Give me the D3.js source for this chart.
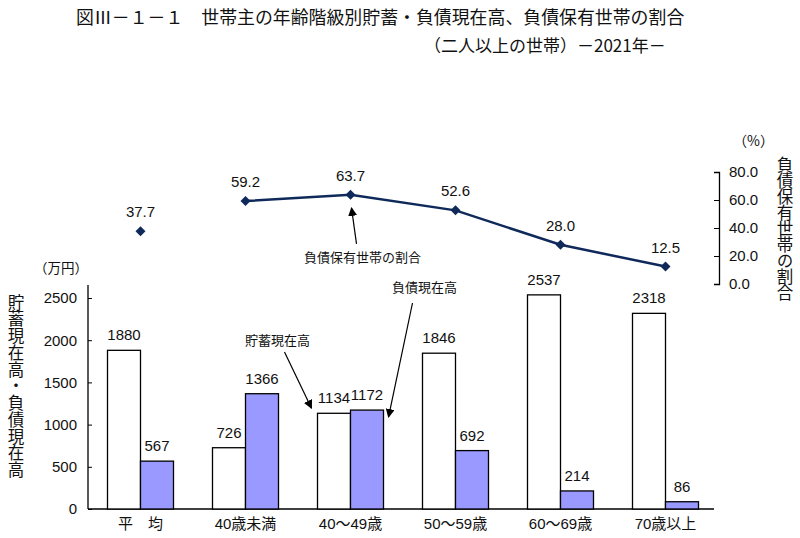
<!DOCTYPE html>
<html>
<head>
<meta charset="utf-8">
<script src="https://cdn.jsdelivr.net/npm/d3@7"></script>
<style>
  body { margin: 0; background: #fff; }
  text { font-family: "Liberation Sans", "Noto Sans CJK JP", sans-serif; fill: #111; }
  .jp { font-family: "Noto Sans CJK JP", sans-serif; }
  .vert { writing-mode: vertical-rl; }
</style>
</head>
<body>
<script>
var categories = ["平　均", "40歳未満", "40～49歳", "50～59歳", "60～69歳", "70歳以上"];
var savings = [1880, 726, 1134, 1846, 2537, 2318];
var debts = [567, 1366, 1172, 692, 214, 86];
var debtShare = [37.7, 59.2, 63.7, 52.6, 28.0, 12.5];
var leftTicks = [0, 500, 1000, 1500, 2000, 2500];
var rightTicks = [0, 20, 40, 60, 80];

var svgWidth = 800, svgHeight = 538;

var svg = d3.select("body")
  .append("svg")
  .attr("width", svgWidth)
  .attr("height", svgHeight);

// arrow head
svg.append("defs").append("marker")
  .attr("id", "arrow")
  .attr("viewBox", "0 0 10 10")
  .attr("refX", 9).attr("refY", 5)
  .attr("markerWidth", 9).attr("markerHeight", 9)
  .attr("markerUnits", "userSpaceOnUse")
  .attr("orient", "auto")
  .append("path")
  .attr("d", "M0,0L10,5L0,10z")
  .attr("fill", "#000");

// scales
var x = d3.scaleBand().domain(categories).range([88, 718]);
var sub = d3.scaleBand().domain(["sav", "debt"]).range([-33, 33]);
var y = d3.scaleLinear().domain([0, 2500]).range([509, 298]);
var yr = d3.scaleLinear().domain([0, 80]).range([284, 172]);
var cx = c => x(c) + x.bandwidth() / 2;

// title
svg.append("text").attr("class", "jp")
  .attr("x", 76).attr("y", 24)
  .style("font-size", "17.9px")
  .text("図Ⅲ－１－１　世帯主の年齢階級別貯蓄・負債現在高、負債保有世帯の割合");
svg.append("text").attr("class", "jp")
  .attr("x", 424).attr("y", 52)
  .style("font-size", "17px")
  .text("（二人以上の世帯）－2021年－");

// left axis
var leftAxis = d3.axisLeft(y).tickValues(leftTicks).tickSizeInner(-4).tickSizeOuter(0).tickPadding(11).tickFormat(d3.format("d"));
var gl = svg.append("g").attr("transform", "translate(88,0)").call(leftAxis);
gl.select(".domain").remove();
gl.append("line").attr("x1", 0).attr("x2", 0).attr("y1", 285).attr("y2", 509).attr("stroke", "#000").attr("stroke-width", 1.3);
gl.selectAll(".tick text").style("font-size", "15px").attr("fill", "#111");
gl.selectAll(".tick line").attr("stroke", "#000");

// x axis
var xAxis = d3.axisBottom(x).tickSize(0).tickPadding(9);
var gx = svg.append("g").attr("transform", "translate(0,509)").call(xAxis);
gx.select(".domain").remove();
gx.append("line").attr("x1", 88).attr("x2", 714).attr("y1", 0).attr("y2", 0).attr("stroke", "#000").attr("stroke-width", 1.3);
gx.selectAll(".tick text").style("font-size", "15px").attr("fill", "#111");

// right axis
var rightAxis = d3.axisRight(yr).tickValues(rightTicks).tickSizeInner(-5).tickSizeOuter(-5).tickPadding(10).tickFormat(d3.format(".1f"));
var gr = svg.append("g").attr("transform", "translate(719,0)").call(rightAxis);
gr.select(".domain").attr("stroke-width", 1.3);
gr.selectAll(".tick text").style("font-size", "15px").attr("fill", "#111");

// unit labels
svg.append("text").attr("class", "jp").attr("x", 34).attr("y", 273).style("font-size", "13.5px").text("（万円）");
svg.append("text").attr("class", "jp").attr("x", 733).attr("y", 146).style("font-size", "14px").text("（%）");

// vertical axis titles
svg.append("text").attr("class", "jp vert")
  .attr("x", 16).attr("y", 294)
  .attr("textLength", 184).attr("lengthAdjust", "spacing")
  .style("font-size", "16.5px")
  .text("貯蓄現在高・負債現在高");
svg.append("text").attr("class", "jp vert")
  .attr("x", 785).attr("y", 156)
  .style("font-size", "16.5px").style("letter-spacing", "-0.4px")
  .text("負債保有世帯の割合");

// bars
var bars = svg.append("g");
bars.selectAll(".sav").data(categories).enter().append("rect")
  .attr("class", "sav")
  .attr("x", c => cx(c) + sub("sav"))
  .attr("width", sub.bandwidth())
  .attr("y", (c, i) => y(savings[i]))
  .attr("height", (c, i) => y(0) - y(savings[i]))
  .attr("fill", "#fff").attr("stroke", "#000").attr("stroke-width", 1.3);
bars.selectAll(".debt").data(categories).enter().append("rect")
  .attr("class", "debt")
  .attr("x", c => cx(c) + sub("debt"))
  .attr("width", sub.bandwidth())
  .attr("y", (c, i) => y(debts[i]))
  .attr("height", (c, i) => y(0) - y(debts[i]))
  .attr("fill", "#9999ff").attr("stroke", "#000").attr("stroke-width", 1.3);

// bar value labels
bars.selectAll(".savlab").data(categories).enter().append("text")
  .attr("x", c => cx(c) + sub("sav") + sub.bandwidth() / 2)
  .attr("y", (c, i) => y(savings[i]) - 10)
  .attr("text-anchor", "middle").style("font-size", "15px")
  .text((c, i) => savings[i]);
bars.selectAll(".debtlab").data(categories).enter().append("text")
  .attr("x", c => cx(c) + sub("debt") + sub.bandwidth() / 2)
  .attr("y", (c, i) => y(debts[i]) - 10)
  .attr("text-anchor", "middle").style("font-size", "15px")
  .text((c, i) => debts[i]);

// line (average point is not connected)
var navy = "#0f2a5a";
var line = d3.line().x(d => cx(d.c)).y(d => yr(d.v));
var pts = categories.map((c, i) => ({ c: c, v: debtShare[i] }));
svg.append("path")
  .datum(pts.slice(1))
  .attr("d", line)
  .attr("fill", "none").attr("stroke", navy).attr("stroke-width", 2.5);
svg.append("g").selectAll("path").data(pts).enter().append("path")
  .attr("d", d3.symbol().type(d3.symbolSquare).size(50))
  .attr("transform", d => `translate(${cx(d.c)},${yr(d.v)}) rotate(45)`)
  .attr("fill", navy);
svg.append("g").selectAll("text").data(pts).enter().append("text")
  .attr("x", d => cx(d.c))
  .attr("y", d => yr(d.v) - 14)
  .attr("text-anchor", "middle").style("font-size", "15px")
  .text(d => d3.format(".1f")(d.v));

// annotations
var c3 = categories[2];
svg.append("text").attr("class", "jp")
  .attr("x", cx(c3) + 12).attr("y", 262)
  .attr("text-anchor", "middle").style("font-size", "13px")
  .text("負債保有世帯の割合");
svg.append("line")
  .attr("x1", cx(c3) + 6).attr("y1", yr(debtShare[2]) + 49)
  .attr("x2", cx(c3) + 1).attr("y2", yr(debtShare[2]) + 13)
  .attr("stroke", "#000").attr("stroke-width", 1.2).attr("marker-end", "url(#arrow)");

svg.append("text").attr("class", "jp")
  .attr("x", cx(c3) - 73).attr("y", 345)
  .attr("text-anchor", "middle").style("font-size", "13px")
  .text("貯蓄現在高");
svg.append("line")
  .attr("x1", cx(c3) - 66).attr("y1", 352)
  .attr("x2", cx(c3) + sub("sav") - 6).attr("y2", y(savings[2]) - 5)
  .attr("stroke", "#000").attr("stroke-width", 1.2).attr("marker-end", "url(#arrow)");

svg.append("text").attr("class", "jp")
  .attr("x", cx(c3) + 74).attr("y", 292)
  .attr("text-anchor", "middle").style("font-size", "13px")
  .text("負債現在高");
svg.append("line")
  .attr("x1", cx(c3) + 62).attr("y1", 303)
  .attr("x2", cx(c3) + sub("debt") + sub.bandwidth() + 5).attr("y2", y(debts[2]) + 7)
  .attr("stroke", "#000").attr("stroke-width", 1.2).attr("marker-end", "url(#arrow)");
</script>
</body>
</html>
